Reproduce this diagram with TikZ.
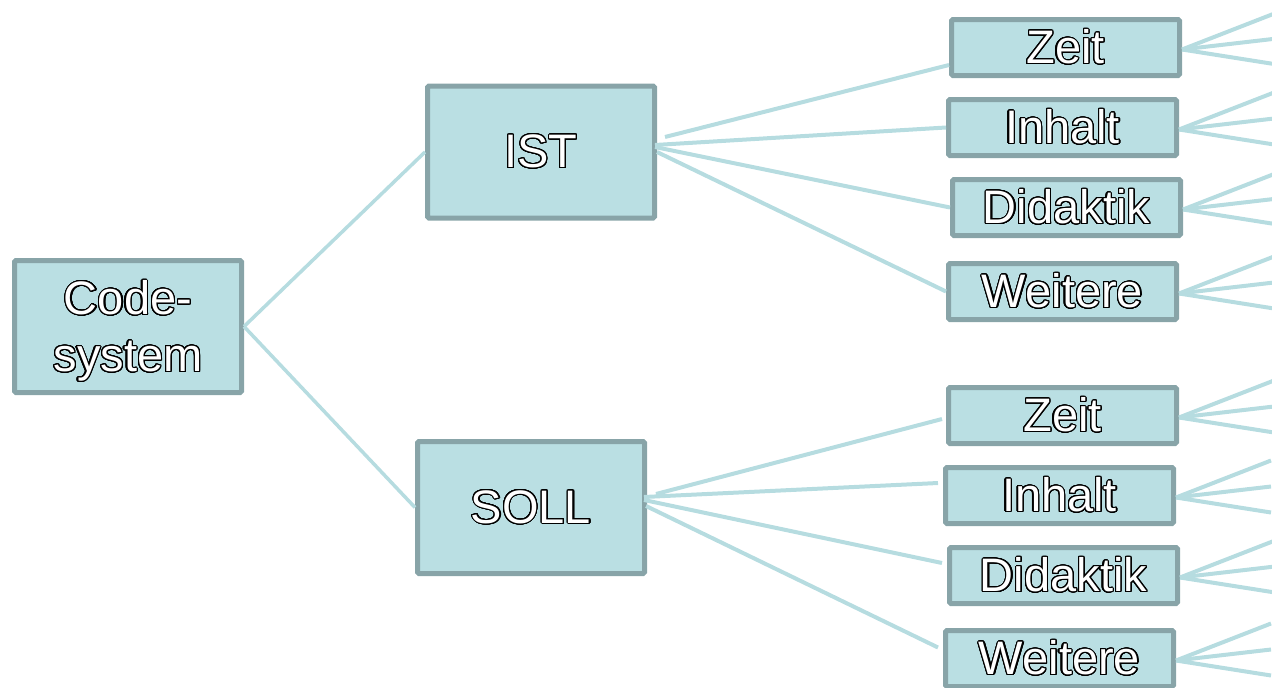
\documentclass[tikz,border=0pt]{standalone}
\usepackage{fontspec}
\setmainfont{Liberation Sans}
\usepackage{contour}
\usetikzlibrary{calc}

\definecolor{boxfill}{HTML}{BADFE3}
\definecolor{boxedge}{HTML}{88A4A8}
\definecolor{linkcol}{HTML}{B6DCE0}
\contourlength{1.1pt}
\contournumber{32}
% white lettering with a thin black outline
\newcommand{\outl}[1]{\contour{black}{#1}}

\tikzset{
  bigbox/.style={draw=boxedge, fill=boxfill, line width=5pt, rounded corners=1.5pt,
    minimum width=227pt, minimum height=132pt, inner sep=0pt, text=white,
    align=center, font=\fontsize{47}{57}\selectfont},
  smallbox/.style={bigbox, minimum width=228pt, minimum height=56pt},
  link/.style={draw=linkcol, line width=4pt},
  fan/.style={draw=linkcol, line width=4pt},
}

\begin{document}
\begin{tikzpicture}[x=1pt, y=-1pt]
  \useasboundingbox (0,0) rectangle (1272,688);
  \clip (0,0) rectangle (1272,688);

  % root and the two main branches
  \node[bigbox] (code) at (128,326.5)
    {\raisebox{0pt}[\dimexpr\height+10pt]{\outl{Code-}}\\\outl{system}};
  \node[bigbox] (ist)  at (541,152)   {\outl{IST}};
  \node[bigbox] (soll) at (531,507.5) {\outl{SOLL}};

  % categories under IST
  \node[smallbox] (z1) at (1065.5,47.5)  {\outl{Zeit}};
  \node[smallbox] (i1) at (1062.5,127.5) {\outl{Inhalt}};
  \node[smallbox] (d1) at (1066.5,207.5) {\outl{Didaktik}};
  \node[smallbox] (w1) at (1062.5,291.5) {\outl{Weitere}};

  % categories under SOLL
  \node[smallbox] (z2) at (1062.5,415.5) {\outl{Zeit}};
  \node[smallbox] (i2) at (1059.5,495.5) {\outl{Inhalt}};
  \node[smallbox] (d2) at (1063.5,575.5) {\outl{Didaktik}};
  \node[smallbox] (w2) at (1059.5,658.5) {\outl{Weitere}};

  % root connectors
  \draw[link, line width=3.5pt] (code.east) -- (ist.west);
  \draw[link, line width=3.5pt] (code.east) -- (soll.west);

  % IST connectors
  \draw[link] ($(ist.east)+(8,-15)$) -- ($(z1.west)+(0,17.5)$);
  \draw[link] ($(ist.east)+(-2,-7)$) -- (i1.west);
  \draw[link] ($(ist.east)+(-2,-5)$) -- (d1.west);
  \draw[link] ($(ist.east)+(0,0)$)   -- (w1.west);

  % SOLL connectors
  \draw[link] ($(soll.east)+(9,-13.5)$) -- ($(z2.west)+(-4,3.5)$);
  \draw[link] ($(soll.east)+(-3,-10.5)$) -- ($(i2.west)+(-5,-12.5)$);
  \draw[link] ($(soll.east)+(-3,-7.5)$)  -- ($(d2.west)+(-5,-12.5)$);
  \draw[link] ($(soll.east)+(-1,-1.5)$)  -- ($(w2.west)+(-5,-11)$);

  % sub-branches leaving each category box
  \foreach \n in {z1,i1,d1,w1,z2,i2,d2,w2}{
    \foreach \dy in {-37,-11,15}{
      \draw[fan] ($(\n.east)+(0,2)$) -- ($(\n.east)+(95,2+\dy)$);
    }
  }
\end{tikzpicture}
\end{document}
